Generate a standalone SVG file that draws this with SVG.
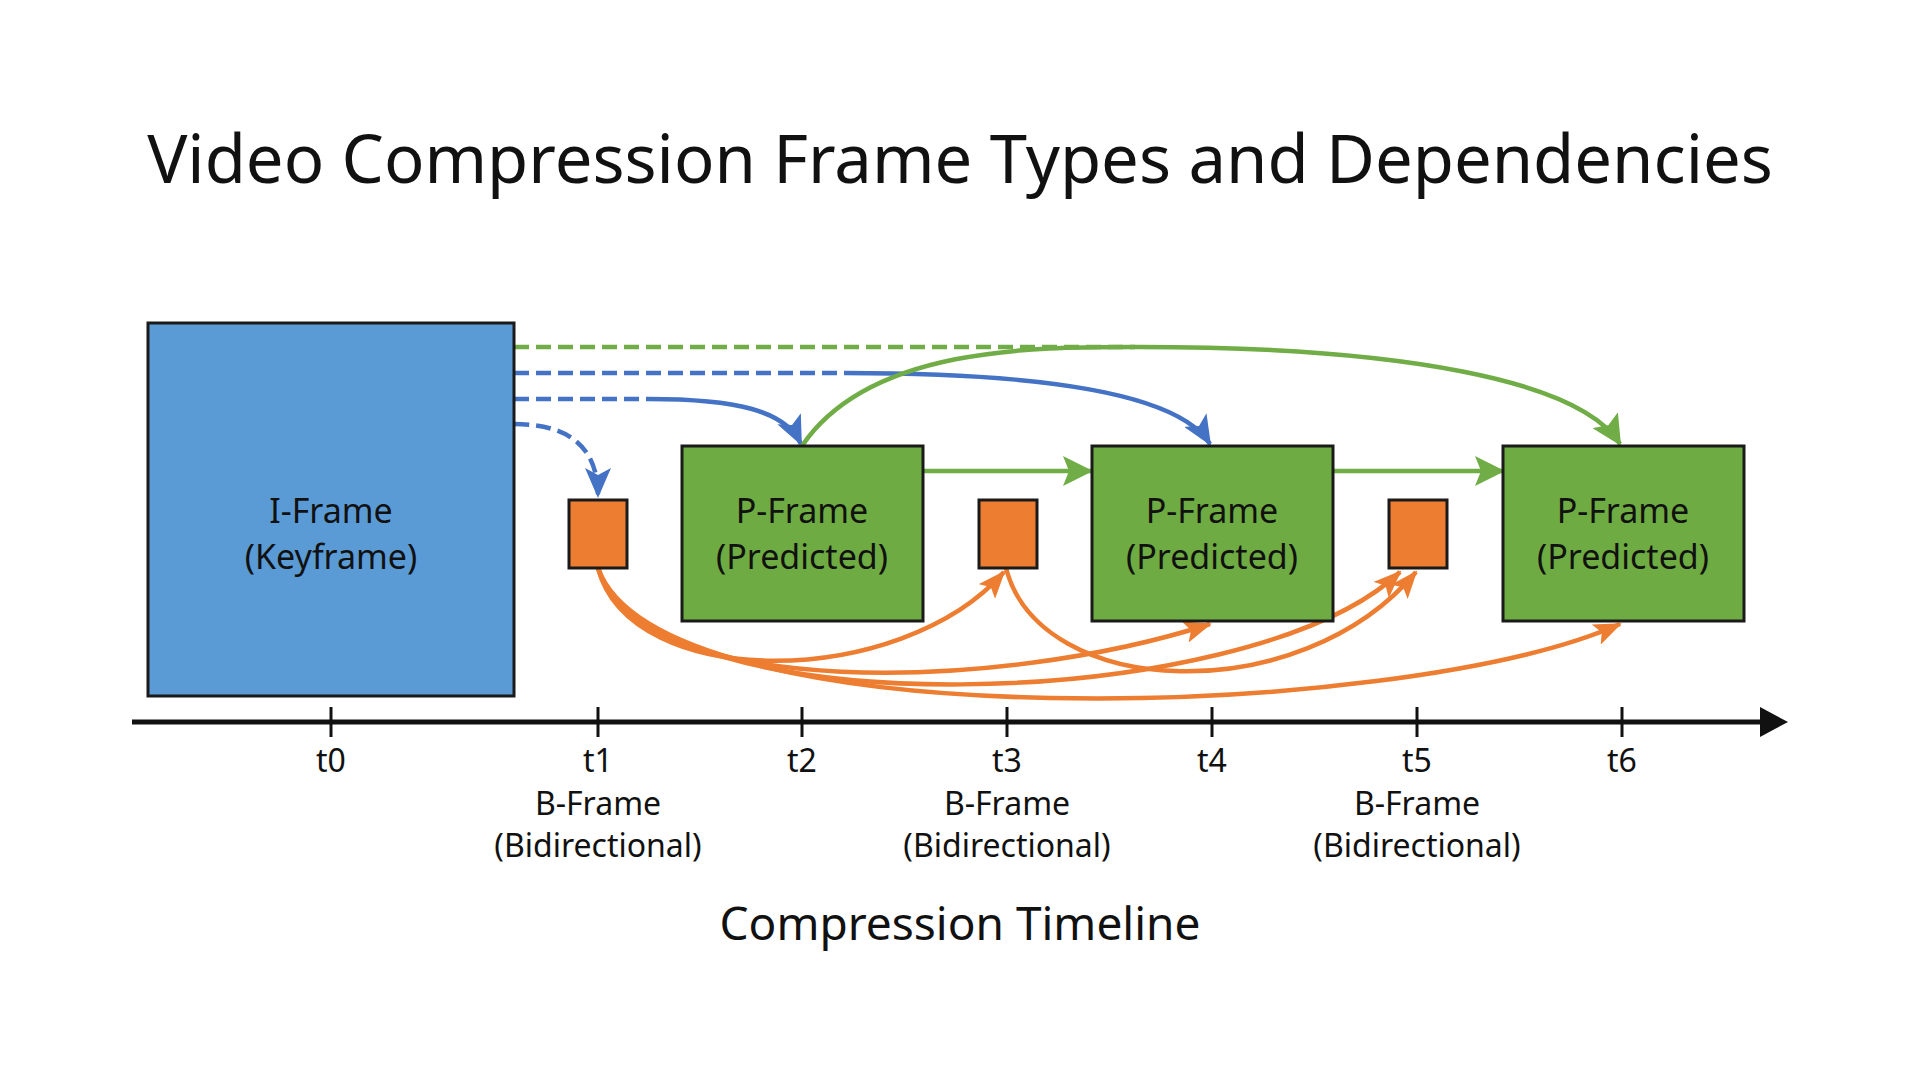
<svg xmlns="http://www.w3.org/2000/svg" width="1920" height="1072" viewBox="0 0 1920 1072">
  <defs>
    <style>
      .txt { font-family: "Noto Sans", "Open Sans", "DejaVu Sans", sans-serif; fill: #111; text-anchor: middle; }
      .title { font-size: 67px; }
      .node { font-size: 34px; }
      .tick { font-size: 32px; }
      .axis-title { font-size: 46px; }
      .box { stroke: #1a1a1a; stroke-width: 3; }
      .iframe { fill: #5b9bd5; }
      .pframe { fill: #6eab42; }
      .bframe { fill: #ed7d31; }
      .blue { fill: none; stroke: #4472c4; stroke-width: 4.5; }
      .green { fill: none; stroke: #70ad47; stroke-width: 4.5; }
      .orange { fill: none; stroke: #ed7d31; stroke-width: 4.5; }
      .dash { stroke-dasharray: 15 7; }
    </style>
    <marker id="arrBlue" markerUnits="userSpaceOnUse" markerWidth="30" markerHeight="26" refX="28" refY="13" orient="auto">
      <path d="M0,0 L30,13 L0,26 L7,13 z" fill="#4472c4"/>
    </marker>
    <marker id="arrGreen" markerUnits="userSpaceOnUse" markerWidth="30" markerHeight="30" refX="28" refY="15" orient="auto">
      <path d="M0,0 L30,15 L0,30 L6,15 z" fill="#70ad47"/>
    </marker>
    <marker id="arrOrange" markerUnits="userSpaceOnUse" markerWidth="28" markerHeight="22" refX="26" refY="11" orient="auto">
      <path d="M0,0 L28,11 L0,22 L6,11 z" fill="#ed7d31"/>
    </marker>
  </defs>

  <rect x="0" y="0" width="1920" height="1072" fill="#ffffff"/>

  <text class="txt title" x="960" y="183">Video Compression Frame Types and Dependencies</text>

  <g id="connectors">
    <!-- blue: I-frame to P1, P2, B1 -->
    <path class="blue dash" d="M514,373 H845"/>
    <path class="blue" d="M845,373 C1050,373 1180,395 1210,444" marker-end="url(#arrBlue)"/>
    <path class="blue dash" d="M514,399 H648"/>
    <path class="blue" d="M648,399 C735,399 785,410 801,444" marker-end="url(#arrBlue)"/>
    <path class="blue dash" d="M514,424 C570,424 598,448 598,496" marker-end="url(#arrBlue)"/>
    <!-- green: I-frame / P1 to P3 -->
    <path class="green dash" d="M514,347 H1135"/>
    <path class="green" d="M802,446 C870,345 1040,347 1140,347 C1400,347 1580,380 1620,444" marker-end="url(#arrGreen)"/>
    <!-- green: P to next P -->
    <path class="green" d="M923,471 H1091" marker-end="url(#arrGreen)"/>
    <path class="green" d="M1333,471 H1503" marker-end="url(#arrGreen)"/>
    <!-- orange: B-frame bidirectional references -->
    <path class="orange" d="M598,568 C630,692 900,690 1004,572" marker-end="url(#arrOrange)"/>
    <path class="orange" d="M598,568 C640,702 1000,692 1210,624" marker-end="url(#arrOrange)"/>
    <path class="orange" d="M598,568 C650,730 1250,715 1400,572" marker-end="url(#arrOrange)"/>
    <path class="orange" d="M598,568 C660,742 1400,722 1620,624" marker-end="url(#arrOrange)"/>
    <path class="orange" d="M1006,568 C1040,700 1300,710 1416,572" marker-end="url(#arrOrange)"/>
  </g>

  <g id="i-frame">
    <rect class="box iframe" x="148" y="323" width="366" height="373"/>
    <text class="txt node" x="331" y="523">I-Frame</text>
    <text class="txt node" x="331" y="569">(Keyframe)</text>
  </g>

  <g id="b-frame-1">
    <rect class="box bframe" x="569" y="500" width="58" height="68"/>
  </g>
  <g id="b-frame-2">
    <rect class="box bframe" x="979" y="500" width="58" height="68"/>
  </g>
  <g id="b-frame-3">
    <rect class="box bframe" x="1389" y="500" width="58" height="68"/>
  </g>

  <g id="p-frame-1">
    <rect class="box pframe" x="682" y="446" width="241" height="175"/>
    <text class="txt node" x="802" y="523">P-Frame</text>
    <text class="txt node" x="802" y="569">(Predicted)</text>
  </g>
  <g id="p-frame-2">
    <rect class="box pframe" x="1092" y="446" width="241" height="175"/>
    <text class="txt node" x="1212" y="523">P-Frame</text>
    <text class="txt node" x="1212" y="569">(Predicted)</text>
  </g>
  <g id="p-frame-3">
    <rect class="box pframe" x="1503" y="446" width="241" height="175"/>
    <text class="txt node" x="1623" y="523">P-Frame</text>
    <text class="txt node" x="1623" y="569">(Predicted)</text>
  </g>

  <g id="timeline">
    <line x1="132" y1="722" x2="1762" y2="722" stroke="#111" stroke-width="5"/>
    <path d="M1760,707 L1788,722 L1760,737 z" fill="#111"/>
    <g stroke="#111" stroke-width="3">
      <line x1="331" y1="707" x2="331" y2="737"/>
      <line x1="598" y1="707" x2="598" y2="737"/>
      <line x1="802" y1="707" x2="802" y2="737"/>
      <line x1="1007" y1="707" x2="1007" y2="737"/>
      <line x1="1212" y1="707" x2="1212" y2="737"/>
      <line x1="1417" y1="707" x2="1417" y2="737"/>
      <line x1="1622" y1="707" x2="1622" y2="737"/>
    </g>
    <text class="txt tick" x="331" y="772">t0</text>
    <text class="txt tick" x="598" y="772">t1</text>
    <text class="txt tick" x="802" y="772">t2</text>
    <text class="txt tick" x="1007" y="772">t3</text>
    <text class="txt tick" x="1212" y="772">t4</text>
    <text class="txt tick" x="1417" y="772">t5</text>
    <text class="txt tick" x="1622" y="772">t6</text>
    <text class="txt tick" x="598" y="815">B-Frame</text>
    <text class="txt tick" x="598" y="857">(Bidirectional)</text>
    <text class="txt tick" x="1007" y="815">B-Frame</text>
    <text class="txt tick" x="1007" y="857">(Bidirectional)</text>
    <text class="txt tick" x="1417" y="815">B-Frame</text>
    <text class="txt tick" x="1417" y="857">(Bidirectional)</text>
    <text class="txt axis-title" x="960" y="940">Compression Timeline</text>
  </g>
</svg>
